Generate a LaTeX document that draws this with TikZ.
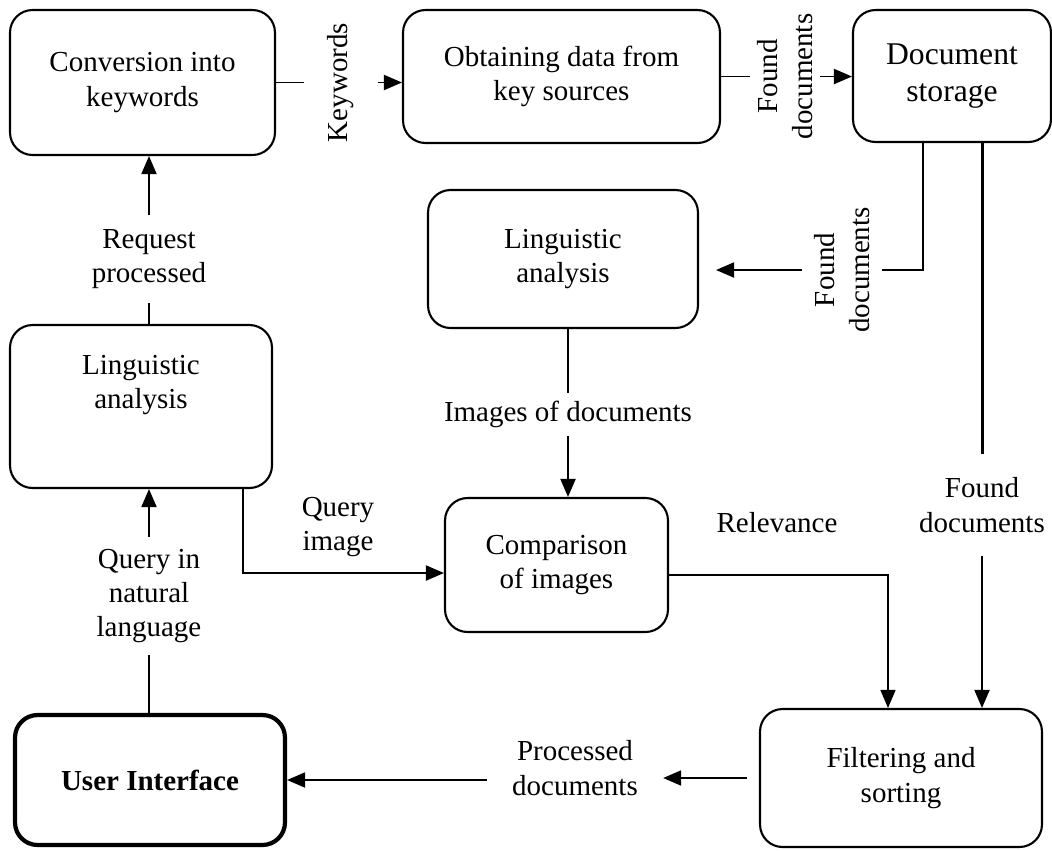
\documentclass[tikz,border=0pt]{standalone}
\usepackage{fontspec}
\setmainfont{Liberation Serif}
\usetikzlibrary{arrows.meta,calc}
\tikzset{
  procbox/.style={rectangle,rounded corners=0.45cm,draw=black,line width=1.2pt,align=center,font=\fontsize{16.5}{19.6}\selectfont},
  uibox/.style={procbox,line width=2.4pt,font=\fontsize{16.5}{19.6}\selectfont\bfseries},
  lbl/.style={align=center,inner sep=0pt,font=\fontsize{16.5}{19.6}\selectfont},
  vlbl/.style={lbl,rotate=90},
  conn/.style={line width=1.1pt},
  arr/.style={conn,-{Triangle[length=0.36cm,width=0.3cm]}}
}

\begin{document}
\begin{tikzpicture}[x=0.02cm,y=-0.02cm]
  \useasboundingbox (0,0) rectangle (1052,850);

  %% Boxes
  \node[procbox,minimum width=5.3cm,minimum height=2.9cm] (conv) at (142.5,82.5) {Conversion into\\keywords};
  \node[procbox,minimum width=6.34cm,minimum height=2.66cm] (keysrc) at (561.5,76.5) {Obtaining data from\\key sources};
  \node[procbox,minimum width=3.96cm,minimum height=2.64cm,font=\fontsize{18}{21}\selectfont] (store) at (952,76) {Document\\storage};
  \node[procbox,minimum width=5.4cm,minimum height=2.76cm] (lingM) at (563,259) {Linguistic\\analysis};
  \node[procbox,minimum width=5.24cm,minimum height=3.26cm] (lingL) at (141,406.5) {};
  \node[lbl] (lingLtxt) at (141,385) {Linguistic\\analysis};
  \node[procbox,minimum width=4.46cm,minimum height=2.68cm] (comp) at (556.5,565) {Comparison\\of images};
  \node[uibox,minimum width=5.4cm,minimum height=2.6cm] (ui) at (150,780) {User Interface};
  \node[procbox,minimum width=5.64cm,minimum height=2.76cm] (filt) at (901,778) {Filtering and\\sorting};

  %% Labels
  \node[vlbl,inner ysep=0.46cm] (kw) at (341,82.5) {Keywords};
  \node[vlbl,inner ysep=0.15cm] (fd1) at (785,76.5) {Found\\documents};
  \node[vlbl,inner ysep=0.25cm] (fd2) at (842,270) {Found\\documents};
  \node[lbl,inner ysep=0.46cm] (fd3) at (982,505) {Found\\documents};
  \node[lbl,inner ysep=0.15cm] (imgdoc) at (568,414.5) {Images of documents};
  \node[lbl] (rel) at (777,523) {Relevance};
  \node[lbl] (qimg) at (338,527) {Query\\image};
  \node[lbl,inner ysep=0.28cm] (reqp) at (149,259) {Request\\processed};
  \node[lbl,inner ysep=0.23cm] (qnl) at (149,596) {Query in\\natural\\language};
  \node[lbl,inner xsep=0.5cm] (proc) at (575,768) {Processed\\documents};

  %% Arrows
  \draw[conn] (conv.east) -- (kw);
  \draw[arr] (kw) -- (kw -| keysrc.west);
  \draw[conn] (keysrc.east) -- (fd1);
  \draw[arr] (fd1) -- (fd1 -| store.west);
  \draw[conn] ($(store.south)+(-29,0)$) |- (fd2);
  \draw[arr,shorten >=0.34cm] (fd2) -- (fd2 -| lingM.east);
  \draw[conn,line width=1.7pt] ($(store.south)+(30,0)$) -- (fd3);
  \draw[arr] (fd3) -- (fd3 |- filt.north);
  \draw[conn] (imgdoc |- lingM.south) -- (imgdoc);
  \draw[arr] (imgdoc) -- (imgdoc |- comp.north);
  \draw[arr,line width=0.8pt] ([yshift=-0.2cm]comp.east) -| ($(filt.north)+(-13,0)$);
  \draw[arr] ($(lingL.south)+(102,0)$) |- ([yshift=-0.16cm]comp.west);
  \draw[conn] (reqp.south |- lingL.north) -- (reqp);
  \draw[arr] (reqp) -- (reqp |- conv.south);
  \draw[conn] (qnl.south |- ui.north) -- (qnl);
  \draw[arr] (qnl) -- (qnl |- lingL.south);
  \draw[arr,shorten <=0.24cm] (filt.west) -- (filt.west -| proc.east);
  \draw[arr] (ui.east -| proc.west) -- (ui.east);
\end{tikzpicture}
\end{document}
